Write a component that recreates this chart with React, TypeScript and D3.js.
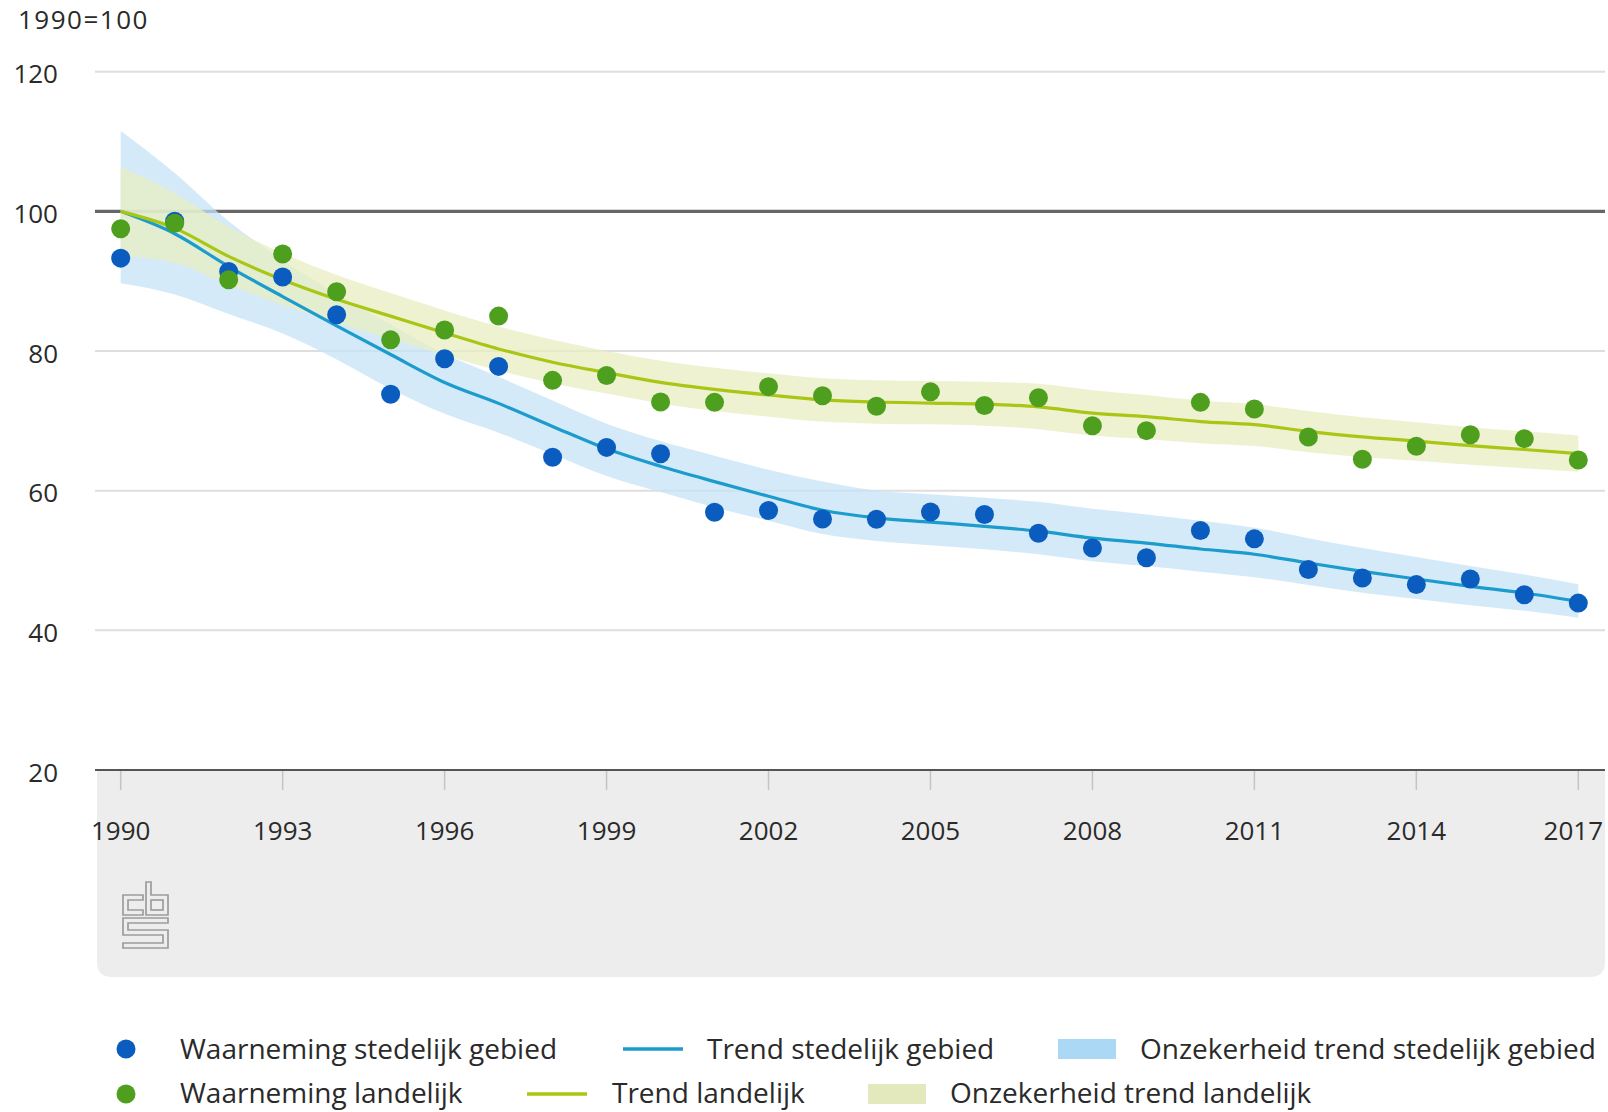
import React from "react";
import * as d3 from "d3";

const years: number[] = d3.range(1990, 2018);

const obsStedelijk: number[] = [
  93.3, 98.6, 91.4, 90.6, 85.2, 73.8, 78.9, 77.8, 64.8, 66.2, 65.3, 56.9, 57.15, 55.95,
  55.9, 56.95, 56.6, 53.9, 51.8, 50.4, 54.3, 53.1, 48.7, 47.5, 46.55, 47.35, 45.1, 43.9,
];
const obsLandelijk: number[] = [
  97.5, 98.3, 90.2, 93.9, 88.5, 81.6, 83.0, 85.0, 75.8, 76.5, 72.7, 72.65, 74.9, 73.6,
  72.1, 74.15, 72.2, 73.3, 69.3, 68.6, 72.65, 71.7, 67.7, 64.5, 66.35, 68.0, 67.45, 64.4,
];
const trendStedelijk: number[] = [
  100, 96.8, 92.1, 87.8, 83.6, 79.5, 75.5, 72.5, 69.2, 66.0, 63.5, 61.3, 59.2, 57.2,
  56.1, 55.5, 54.9, 54.2, 53.2, 52.5, 51.65, 50.9, 49.65, 48.45, 47.35, 46.3, 45.35, 44.15,
];
const trendLandelijk: number[] = [
  100, 97.6, 93.55, 90.2, 87.4, 85.0, 82.6, 80.3, 78.4, 76.9, 75.5, 74.5, 73.7, 73.0,
  72.7, 72.55, 72.4, 72.0, 71.1, 70.6, 69.9, 69.45, 68.5, 67.7, 67.1, 66.45, 65.9, 65.3,
];
const upperStedelijk: number[] = [
  111.5, 105.5, 98.6, 93.0, 88.2, 83.8, 79.6, 76.3, 72.9, 69.6, 67.1, 65.0, 63.0, 61.3,
  60.0, 59.5, 59.0, 58.4, 57.4, 56.6, 55.7, 54.7, 53.2, 51.8, 50.5, 49.2, 48.0, 46.6,
];
const lowerStedelijk: number[] = [
  89.7, 88.1, 85.3, 82.5, 78.8, 74.6, 71.0, 68.3, 65.2, 62.1, 59.8, 57.6, 55.7, 53.8,
  52.8, 52.2, 51.6, 50.9, 49.9, 49.2, 48.4, 47.6, 46.5, 45.4, 44.5, 43.6, 42.8, 41.8,
];
const upperLandelijk: number[] = [
  106.4, 102.6, 97.8, 94.0, 90.9, 88.3, 85.8, 83.5, 81.6, 80.0, 78.6, 77.6, 76.8, 76.1,
  75.8, 75.7, 75.6, 75.3, 74.4, 73.7, 72.9, 72.4, 71.4, 70.5, 69.8, 69.1, 68.5, 67.9,
];
const lowerLandelijk: number[] = [
  93.6, 92.6, 89.5, 86.6, 84.0, 81.7, 79.4, 77.2, 75.4, 73.9, 72.5, 71.4, 70.6, 69.9,
  69.6, 69.5, 69.3, 68.8, 67.9, 67.4, 66.8, 66.4, 65.5, 64.8, 64.3, 63.7, 63.2, 62.7,
];

const yTicks: number[] = [20, 40, 60, 80, 100, 120];
const xTicks: number[] = [1990, 1993, 1996, 1999, 2002, 2005, 2008, 2011, 2014, 2017];
const yUnit = "1990=100";

const legendRow1 = [
  "Waarneming stedelijk gebied",
  "Trend stedelijk gebied",
  "Onzekerheid trend stedelijk gebied",
];
const legendRow2 = [
  "Waarneming landelijk",
  "Trend landelijk",
  "Onzekerheid trend landelijk",
];

const C = {
  bluePt: "#0b5cbf",
  greenPt: "#4f9f1f",
  blueLine: "#1c9ccc",
  greenLine: "#a9c615",
  blueBand: "#c5e3f7",
  greenBand: "#e8eec2",
  blueRect: "#abd8f4",
  greenRect: "#e3e9bd",
  text: "#2a2a2a",
};

const FONT = "'Open Sans', 'DejaVu Sans', sans-serif";

export default function App() {
  const W = 1608;
  const H = 1112;
  const x = d3.scaleLinear().domain([1990, 2017]).range([120.7, 1578.3]);
  const y = d3.scaleLinear().domain([20, 120]).range([770, 71.7]);

  const line = (vals: number[]) =>
    d3
      .line<number>()
      .x((_, i) => x(years[i]))
      .y((d) => y(d))
      .curve(d3.curveMonotoneX)(vals) || "";

  const area = (lo: number[], hi: number[]) =>
    d3
      .area<number>()
      .x((_, i) => x(years[i]))
      .y0((_, i) => y(lo[i]))
      .y1((_, i) => y(hi[i]))
      .curve(d3.curveMonotoneX)(years) || "";

  const gridX0 = 95;
  const gridX1 = 1605;

  return (
    <div style={{ position: "absolute", left: 0, top: 0 }}>
      <svg width={W} height={H} style={{ display: "block" }} fontFamily={FONT}>
        <rect x={0} y={0} width={W} height={H} fill="#ffffff" />
        {/* gray panel below axis */}
        <path
          d={`M${gridX0 + 2},770 H${gridX1} V${962} Q${gridX1},977 ${gridX1 - 15},977 H${gridX0 + 17} Q${gridX0 + 2},977 ${gridX0 + 2},962 Z`}
          fill="#ededed"
        />
        <text x={18} y={29} fontSize={26} letterSpacing={1.5} fill={C.text}>
          {yUnit}
        </text>
        {/* gridlines */}
        {yTicks.map((t) => (
          <g key={t}>
            {t !== 20 && (
              <line
                x1={gridX0}
                x2={gridX1}
                y1={y(t)}
                y2={y(t)}
                stroke={t === 100 ? "#666666" : "#dedede"}
                strokeWidth={t === 100 ? 3.2 : 2}
              />
            )}
            <text x={58} y={y(t) + 11.5} fontSize={26} textAnchor="end" fill={C.text}>
              {t}
            </text>
          </g>
        ))}
        {/* bands */}
        <path d={area(lowerStedelijk, upperStedelijk)} fill={C.blueBand} fillOpacity={0.75} />
        <path d={area(lowerLandelijk, upperLandelijk)} fill={C.greenBand} fillOpacity={0.75} />
        {/* trend lines */}
        <path d={line(trendStedelijk)} fill="none" stroke={C.blueLine} strokeWidth={3.2} />
        <path d={line(trendLandelijk)} fill="none" stroke={C.greenLine} strokeWidth={3.2} />
        {/* observations */}
        {obsStedelijk.map((v, i) => (
          <circle key={"b" + i} cx={x(years[i])} cy={y(v)} r={9.5} fill={C.bluePt} />
        ))}
        {obsLandelijk.map((v, i) => (
          <circle key={"g" + i} cx={x(years[i])} cy={y(v)} r={9.5} fill={C.greenPt} />
        ))}
        {/* x axis */}
        <line x1={gridX0} x2={gridX1} y1={770} y2={770} stroke="#555555" strokeWidth={2.2} />
        {xTicks.map((t) => (
          <g key={t}>
            <line x1={x(t)} x2={x(t)} y1={771} y2={790} stroke="#c4c4c4" strokeWidth={1.5} />
            <text x={x(t) - (t === 2017 ? 5 : 0)} y={840} fontSize={26} textAnchor="middle" fill={C.text}>
              {t}
            </text>
          </g>
        ))}
        {/* CBS logo */}
        <g fill="none" stroke="#9c9c9c" strokeWidth={1.7}>
          <path d="M143,895 H123 V915 H143 V910 H128 V900 H143 Z" />
          <path d="M146,882 H151 V895 H168 V915 H146 Z" />
          <rect x={151} y={900} width={12} height={10} />
          <path d="M123,918 H168 V923 H128 V930 H168 V948 H123 V943 H163 V935 H123 Z" />
        </g>
        {/* legend row 1 */}
        <g fontSize={28} fill={C.text}>
          <circle cx={126} cy={1049} r={9.5} fill={C.bluePt} />
          <text x={180} y={1059}>{legendRow1[0]}</text>
          <line x1={623} x2={683} y1={1049} y2={1049} stroke={C.blueLine} strokeWidth={3.5} />
          <text x={707} y={1059}>{legendRow1[1]}</text>
          <rect x={1058} y={1039} width={58} height={20} fill={C.blueRect} />
          <text x={1140} y={1059}>{legendRow1[2]}</text>
        </g>
        {/* legend row 2 */}
        <g fontSize={28} fill={C.text}>
          <circle cx={126} cy={1094} r={9.5} fill={C.greenPt} />
          <text x={180} y={1103}>{legendRow2[0]}</text>
          <line x1={527} x2={587} y1={1094} y2={1094} stroke={C.greenLine} strokeWidth={3.5} />
          <text x={612} y={1103}>{legendRow2[1]}</text>
          <rect x={868} y={1084} width={58} height={20} fill={C.greenRect} />
          <text x={950} y={1103}>{legendRow2[2]}</text>
        </g>
      </svg>
    </div>
  );
}
